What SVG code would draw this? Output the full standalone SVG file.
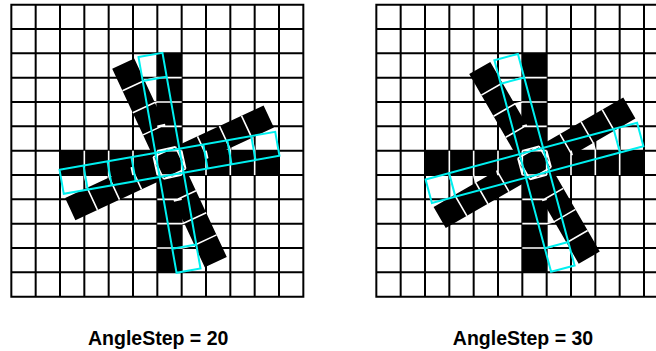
<svg xmlns="http://www.w3.org/2000/svg" width="656" height="351" viewBox="0 0 656 351">
<style>
.grid{fill:none;stroke:#000;stroke-width:2}
.white{fill:none;stroke:#fff;stroke-width:1.6}
.cy{fill:none;stroke:#00f0f0;stroke-width:2}
text{font-family:"Liberation Sans",Arial,sans-serif;font-weight:bold;font-size:19.5px;fill:#000;text-anchor:middle}
</style>
<defs>
<path id="g" class="grid" d="M11.33 4.67H303.33V296.67H11.33Z M35.67 4.67V296.67M60 4.67V296.67M84.33 4.67V296.67M108.67 4.67V296.67M133 4.67V296.67M157.33 4.67V296.67M181.67 4.67V296.67M206 4.67V296.67M230.33 4.67V296.67M254.67 4.67V296.67M279 4.67V296.67 M11.33 29H303.33M11.33 53.33H303.33M11.33 77.67H303.33M11.33 102H303.33M11.33 126.33H303.33M11.33 150.67H303.33M11.33 175H303.33M11.33 199.33H303.33M11.33 223.67H303.33M11.33 248H303.33M11.33 272.33H303.33"/>
<path id="x" d="M-12.17 -109.5H12.17V109.5H-12.17Z M-109.5 -12.17H109.5V12.17H-109.5Z"/>
<path id="c" class="cy" d="M-12.17 -109.5H12.17V109.5H-12.17Z M-109.5 -12.17H109.5V12.17H-109.5Z M-12.17 -85.17H12.17M-12.17 85.17H12.17M-85.17 -12.17V12.17M85.17 -12.17V12.17"/>
<path id="c2" class="cy" d="M-60.83 -12.17V12.17M-36.5 -12.17V12.17M36.5 -12.17V12.17M60.83 -12.17V12.17"/>
<path id="a1" class="white" d="M12.17 -85.17H-12.17L-24.97 -82.33L-47.03 -72.05M12.17 -60.83H-12.17L-14.68 -60.27L-36.74 -49.99M12.17 -36.5H-12.17L-4.4 -38.22L-26.46 -27.94M12.17 -12.17H-12.17L5.89 -16.17L-16.17 -5.89"/>
<path id="a2" class="white" d="M12.17 -85.17H-12.17L-32.05 -79.84L-53.12 -67.68M12.17 -60.83H-12.17L-19.88 -58.76L-40.95 -46.6M12.17 -36.5H-12.17L-7.71 -37.69L-28.79 -25.53M12.17 -12.17H-12.17L4.46 -16.62L-16.62 -4.46"/>
</defs>
<rect width="656" height="351" fill="#fff"/>
<g id="panel-20">
<use href="#g"/>
<g transform="translate(169.5 162.83)">
<use href="#x"/><use href="#x" transform="rotate(-25)"/>
<use href="#a1"/><use href="#a1" transform="rotate(90)"/><use href="#a1" transform="rotate(180)"/><use href="#a1" transform="rotate(270)"/>
<use href="#c" transform="rotate(-10)"/><use href="#c2" transform="rotate(-10)"/>
</g>
<text x="158.2" y="344.5">AngleStep = 20</text>
</g>
<g id="panel-30">
<use href="#g" transform="translate(365 0)"/>
<g transform="translate(534.5 162.83)">
<use href="#x"/><use href="#x" transform="rotate(-30)"/>
<use href="#a2"/><use href="#a2" transform="rotate(90)"/><use href="#a2" transform="rotate(180)"/><use href="#a2" transform="rotate(270)"/>
<use href="#c" transform="rotate(-15)"/>
</g>
<text x="523" y="344.5">AngleStep = 30</text>
</g>
</svg>
